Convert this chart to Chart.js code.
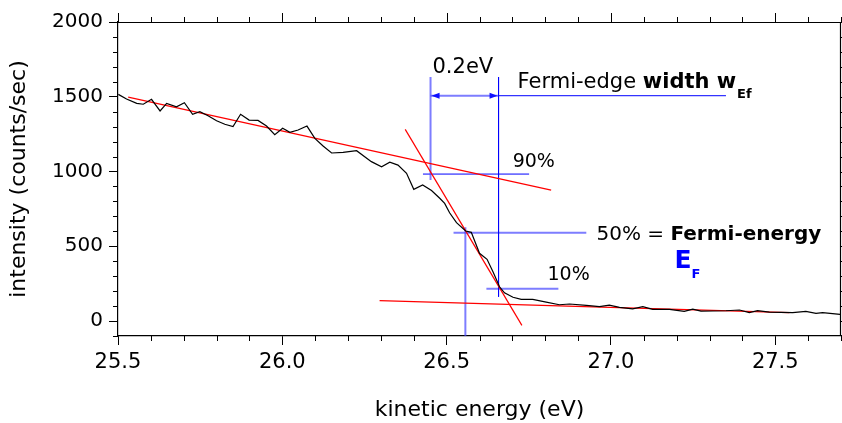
<!DOCTYPE html>
<html>
<head>
<meta charset="utf-8">
<script src="https://cdn.jsdelivr.net/npm/chart.js@4.4.0/dist/chart.umd.min.js"></script>
<style>
  html, body { margin: 0; padding: 0; background: #fff; }
  #wrap { width: 842px; height: 423px; }
</style>
</head>
<body>
<div id="wrap"><canvas id="fermiChart" width="842" height="423"></canvas></div>
<script>
const energy = [
    25.501, 25.526, 25.557, 25.577, 25.602, 25.628, 25.648, 25.678, 25.702, 25.727,
    25.749, 25.774, 25.800, 25.825, 25.850, 25.873, 25.899, 25.926, 25.952, 25.977,
    26.001, 26.023, 26.048, 26.075, 26.099, 26.124, 26.150, 26.185, 26.226, 26.271,
    26.302, 26.327, 26.352, 26.378, 26.400, 26.427, 26.454, 26.479, 26.494, 26.509,
    26.530, 26.558, 26.575, 26.600, 26.623, 26.641, 26.661, 26.676, 26.702, 26.727,
    26.762, 26.803, 26.843, 26.874, 26.925, 26.965, 26.995, 27.026, 27.066, 27.097,
    27.127, 27.178, 27.223, 27.249, 27.274, 27.350, 27.391, 27.421, 27.446, 27.482,
    27.553, 27.593, 27.624, 27.644, 27.697
];
const intensity = [
    1516, 1485, 1456, 1450, 1483, 1405, 1456, 1433, 1460, 1383,
    1400, 1373, 1340, 1316, 1300, 1383, 1344, 1342, 1304, 1246,
    1289, 1262, 1278, 1304, 1222, 1171, 1124, 1128, 1139, 1066,
    1032, 1062, 1043, 988, 881, 910, 873, 821, 787, 724,
    658, 602, 593, 453, 413, 330, 229, 189, 159, 145,
    145, 127, 109, 114, 105, 96, 107, 92, 82, 96,
    78, 78, 65, 80, 67, 69, 74, 56, 69, 60,
    56, 65, 52, 56, 45
];

// --- linear fits (red) ---
const fitHighX = [25.531, 26.818];
const fitHighY = [1498, 876];
const fitEdgeX = [26.374, 26.729];
const fitEdgeY = [1282, -29];
const fitLowX = [26.296, 27.543];
const fitLowY = [136, 56];

// --- construction lines (blue) ---
const edgeStartX = [26.451, 26.451];
const edgeStartY = [1632, 943];
const edgeEndX = [26.658, 26.658];
const edgeEndY = [1632, 163];
const widthArrowX = [26.451, 26.658];
const widthArrowY = [1507, 1507];
const widthLeaderX = [26.658, 27.350];
const widthLeaderY = [1507, 1507];
const level90X = [26.428, 26.751];
const level90Y = [983, 983];
const level50X = [26.521, 26.925];
const level50Y = [591, 591];
const fermiX = [26.557, 26.557];
const fermiY = [627, -100];
const level10X = [26.621, 26.840];
const level10Y = [216, 216];

// --- axes ---
const xTicks = [25.5, 26.0, 26.5, 27.0, 27.5];
const xTickLabels = ['25.5', '26.0', '26.5', '27.0', '27.5'];
const yTicks = [0, 500, 1000, 1500, 2000];
const yTickLabels = ['0', '500', '1000', '1500', '2000'];

const FONT = "'DejaVu Sans', sans-serif";
const LIGHT_BLUE = 'rgba(70, 70, 255, 0.7)';

const pts = (xs, ys) => xs.map((v, i) => ({ x: v, y: ys[i] }));

function lineSet(xs, ys, color, width, order) {
    return {
        data: pts(xs, ys),
        showLine: true,
        borderColor: color,
        borderWidth: width,
        pointRadius: 0,
        tension: 0,
        order: order
    };
}

// minor ticks on all four sides, plus top/right frame
const frameTicks = {
    id: 'frameTicks',
    afterDraw(chart) {
        const { ctx, chartArea: a, scales: { x, y } } = chart;
        ctx.save();
        ctx.strokeStyle = '#000';
        ctx.lineWidth = 1.2;
        ctx.beginPath();
        ctx.moveTo(a.left, a.top + 0.5);
        ctx.lineTo(a.right - 0.5, a.top + 0.5);
        ctx.lineTo(a.right - 0.5, a.bottom);
        ctx.stroke();

        ctx.lineWidth = 1;
        ctx.beginPath();
        for (let i = 0; i <= 22; i++) {
            const px = Math.round(x.getPixelForValue(25.5 + i * 0.1)) + 0.5;
            const major = i % 5 === 0;
            if (!major) {
                ctx.moveTo(px, a.bottom);
                ctx.lineTo(px, a.bottom + 5);
            }
            ctx.moveTo(px, a.top);
            ctx.lineTo(px, a.top - (major ? 9 : 5));
        }
        for (let i = -1; i <= 20; i++) {
            const py = Math.round(y.getPixelForValue(i * 100)) + 0.5;
            const major = i % 5 === 0;
            if (!major) {
                ctx.moveTo(a.left, py);
                ctx.lineTo(a.left - 5, py);
            }
            ctx.moveTo(a.right, py);
            ctx.lineTo(a.right + (major ? 9 : 5), py);
        }
        ctx.stroke();
        ctx.restore();
    }
};

// arrow heads and text annotations
const annotations = {
    id: 'annotations',
    afterDatasetsDraw(chart) {
        const { ctx, scales: { x, y } } = chart;
        const X = v => x.getPixelForValue(v);
        const Y = v => y.getPixelForValue(v);
        ctx.save();

        // arrow heads of the 0.2 eV width marker
        const ay = Y(widthArrowY[0]);
        const head = (tip, dir) => {
            ctx.beginPath();
            ctx.moveTo(tip, ay);
            ctx.lineTo(tip - dir * 8, ay - 3);
            ctx.lineTo(tip - dir * 8, ay + 3);
            ctx.closePath();
            ctx.fill();
        };
        ctx.fillStyle = '#1010ff';
        head(X(widthArrowX[0]) + 1, -1);
        head(X(widthArrowX[1]) - 1, 1);

        ctx.textBaseline = 'alphabetic';
        ctx.textAlign = 'left';
        const write = (txt, px, py, font, color) => {
            ctx.font = font;
            ctx.fillStyle = color;
            ctx.fillText(txt, px, py);
            return px + ctx.measureText(txt).width;
        };

        write('0.2eV', X(26.457), Y(1659), `21px ${FONT}`, '#000');

        let cx = write('Fermi-edge ', X(26.716), Y(1559), `21px ${FONT}`, '#000');
        cx = write('width w', cx, Y(1559), `bold 21px ${FONT}`, '#000');
        write('Ef', cx + 1, Y(1559) + 10, `bold 13px ${FONT}`, '#000');

        write('90%', X(26.701), Y(1030), `19px ${FONT}`, '#000');

        cx = write('50% = ', X(26.956), Y(542), `20px ${FONT}`, '#000');
        write('Fermi-energy', cx, Y(542), `bold 20px ${FONT}`, '#000');

        cx = write('E', X(27.193), Y(355), `bold 25px ${FONT}`, '#0000ff');
        write('F', cx, Y(355) + 10, `bold 13px ${FONT}`, '#0000ff');

        write('10%', X(26.807), Y(274), `19px ${FONT}`, '#000');
        ctx.restore();
    }
};

const ctx = document.getElementById('fermiChart').getContext('2d');
new Chart(ctx, {
    type: 'scatter',
    data: {
        datasets: [
            lineSet(energy, intensity, '#000', 1.2, 0),
            lineSet(fitHighX, fitHighY, '#ff0000', 1.2, 1),
            lineSet(fitEdgeX, fitEdgeY, '#ff0000', 1.2, 1),
            lineSet(fitLowX, fitLowY, '#ff0000', 1.2, 1),
            lineSet(edgeStartX, edgeStartY, LIGHT_BLUE, 2, 2),
            lineSet(edgeEndX, edgeEndY, '#0000ff', 1, 2),
            lineSet(widthArrowX, widthArrowY, LIGHT_BLUE, 2, 2),
            lineSet(widthLeaderX, widthLeaderY, '#0000ff', 1, 2),
            lineSet(level90X, level90Y, '#0000ff', 1, 2),
            lineSet(level50X, level50Y, LIGHT_BLUE, 2, 2),
            lineSet(fermiX, fermiY, LIGHT_BLUE, 2, 2),
            lineSet(level10X, level10Y, LIGHT_BLUE, 2, 2)
        ]
    },
    options: {
        responsive: false,
        animation: false,
        layout: { padding: { top: 22, right: 1, left: 0, bottom: 0 } },
        plugins: {
            legend: { display: false },
            tooltip: { enabled: false }
        },
        scales: {
            x: {
                type: 'linear',
                min: 25.5,
                max: 27.7,
                afterBuildTicks: s => { s.ticks = xTicks.map(v => ({ value: v })); },
                afterFit: s => { s.height = 87; },
                ticks: {
                    autoSkip: false,
                    maxRotation: 0,
                    padding: 5,
                    color: '#000',
                    font: { family: FONT, size: 21 },
                    callback: v => xTickLabels[xTicks.indexOf(v)]
                },
                grid: { drawOnChartArea: false, tickLength: 9, color: '#000', tickColor: '#000' },
                border: { color: '#000', width: 1.2 },
                title: {
                    display: true,
                    text: 'kinetic energy (eV)',
                    color: '#000',
                    font: { family: FONT, size: 22 },
                    padding: { top: 0, bottom: 0 }
                }
            },
            y: {
                type: 'linear',
                min: -100,
                max: 2000,
                afterBuildTicks: s => { s.ticks = yTicks.map(v => ({ value: v })); },
                afterFit: s => { s.width = 118; },
                ticks: {
                    padding: 6,
                    color: '#000',
                    font: { family: FONT, size: 20 },
                    callback: v => yTickLabels[yTicks.indexOf(v)]
                },
                grid: { drawOnChartArea: false, tickLength: 9, color: '#000', tickColor: '#000' },
                border: { color: '#000', width: 1.2 },
                title: {
                    display: true,
                    text: 'intensity (counts/sec)',
                    color: '#000',
                    font: { family: FONT, size: 22 },
                    padding: { top: 6, bottom: 0 }
                }
            }
        }
    },
    plugins: [frameTicks, annotations]
});
</script>
</body>
</html>
